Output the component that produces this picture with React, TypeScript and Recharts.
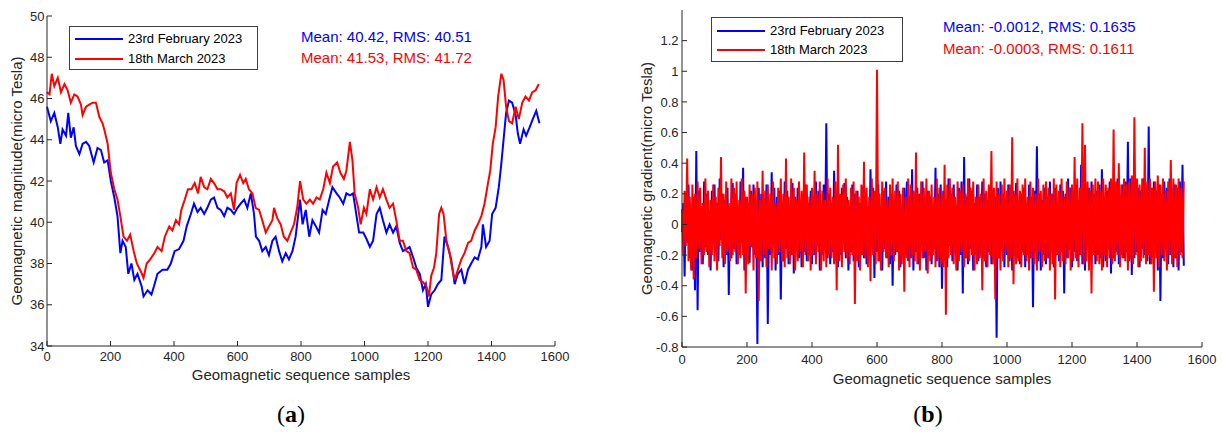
import { LineChart, Line, XAxis, YAxis, Legend } from "recharts";

const FONT = '"Liberation Sans", Arial, Helvetica, sans-serif';
const AXIS = "#262626";
const BLUE = "#0000ff";
const RED = "#ff0000";
const FEB = "23rd February 2023";
const MAR = "18th March 2023";

// (a) geomagnetic magnitude at these sample positions
const febMagSamples = [
  0, 12, 23, 34, 42, 49, 60, 67, 75, 84, 91, 102, 112, 123, 133, 147, 159, 170, 180, 191,
  201, 212, 222, 231, 238, 248, 256, 266, 275, 285, 298, 304, 317, 329, 337, 348, 364, 379, 390, 402,
  416, 430, 440, 453, 463, 474, 484, 495, 505, 516, 526, 537, 547, 558, 568, 579, 589, 600, 610, 621,
  631, 642, 652, 658, 668, 678, 689, 699, 710, 720, 731, 741, 752, 762, 773, 783, 797, 805, 815, 826,
  836, 847, 857, 868, 878, 889, 899, 912, 922, 933, 943, 954, 964, 975, 983, 996, 1006, 1017, 1027, 1038,
  1048, 1058, 1069, 1079, 1090, 1100, 1111, 1121, 1132, 1142, 1153, 1163, 1174, 1184, 1193, 1200, 1210, 1221, 1231, 1242,
  1252, 1263, 1273, 1284, 1294, 1305, 1315, 1326, 1336, 1347, 1357, 1368, 1373, 1383, 1394, 1402, 1413, 1423, 1430, 1438,
  1446, 1455, 1465, 1476, 1483, 1490, 1501, 1509, 1520, 1530, 1541, 1551,
];
const febMagValues = [
  45.6, 44.9, 45.3, 44.6, 43.8, 44.5, 44.2, 45.3, 44.1, 44.6, 43.7, 43.3, 43.8, 43.9, 43.7, 42.9, 43.6, 43.5, 42.9, 43.0,
  42.0, 41.2, 40.3, 38.5, 39.1, 38.8, 37.5, 38.0, 37.2, 37.5, 36.9, 36.4, 36.7, 36.5, 36.9, 37.5, 37.7, 37.7, 38.0, 38.6,
  38.7, 39.1, 39.8, 40.4, 40.9, 40.5, 40.7, 40.4, 40.7, 41.1, 41.2, 40.7, 40.6, 40.3, 40.7, 40.6, 40.4, 40.7, 40.9, 41.1,
  40.7, 41.4, 40.4, 39.3, 39.1, 38.6, 38.8, 38.4, 39.1, 39.3, 38.6, 38.1, 38.5, 38.2, 38.6, 39.3, 41.1, 39.9, 40.6, 39.3,
  40.1, 39.8, 39.5, 40.6, 40.4, 41.1, 41.7, 41.4, 41.2, 40.9, 41.4, 41.3, 41.4, 40.3, 39.5, 39.5, 39.2, 38.8, 39.1, 40.4,
  40.7, 40.1, 39.5, 39.9, 39.5, 39.8, 39.0, 38.6, 38.7, 38.8, 38.3, 37.8, 37.5, 36.7, 37.0, 35.9, 36.5, 36.7, 37.0, 37.2,
  39.3, 38.8, 38.2, 37.0, 37.5, 37.7, 37.0, 37.7, 38.0, 38.3, 38.2, 38.8, 39.9, 38.8, 39.1, 40.4, 40.7, 41.7, 42.7, 44.0,
  45.3, 45.9, 45.8, 45.2, 44.3, 43.8, 44.5, 44.2, 44.6, 45.0, 45.4, 44.8,
];
const marMagSamples = [
  0, 8, 15, 23, 34, 44, 55, 65, 75, 86, 96, 107, 112, 123, 133, 144, 154, 165, 175, 182,
  191, 201, 212, 222, 231, 241, 252, 262, 273, 283, 296, 304, 314, 325, 338, 348, 361, 371, 385, 395,
  406, 416, 423, 434, 444, 455, 465, 476, 484, 495, 505, 516, 526, 537, 547, 558, 568, 579, 589, 597,
  608, 618, 626, 636, 647, 657, 668, 678, 689, 699, 710, 715, 725, 736, 746, 757, 767, 778, 788, 797,
  807, 817, 828, 838, 849, 859, 870, 880, 891, 901, 914, 924, 935, 943, 954, 962, 969, 980, 988, 998,
  1006, 1017, 1027, 1038, 1048, 1058, 1069, 1079, 1090, 1100, 1111, 1121, 1132, 1142, 1153, 1163, 1174, 1184, 1195, 1203,
  1210, 1219, 1226, 1235, 1242, 1249, 1258, 1268, 1276, 1284, 1294, 1305, 1315, 1326, 1336, 1347, 1357, 1368, 1378, 1389,
  1396, 1404, 1413, 1421, 1431, 1438, 1446, 1455, 1465, 1476, 1486, 1497, 1507, 1518, 1528, 1539, 1549,
];
const marMagValues = [
  46.3, 46.2, 47.2, 46.6, 47.0, 46.3, 46.7, 46.4, 45.8, 46.2, 46.1, 45.7, 45.2, 45.6, 45.7, 45.8, 45.8, 45.1, 44.8, 44.4,
  43.8, 42.4, 41.6, 41.1, 40.3, 39.3, 39.1, 39.4, 38.6, 38.0, 37.6, 37.3, 38.0, 38.2, 38.5, 38.8, 38.6, 39.3, 39.8, 39.6,
  40.1, 39.9, 40.6, 41.1, 41.6, 41.6, 41.9, 41.4, 42.2, 41.7, 41.6, 42.1, 41.9, 41.6, 41.6, 41.5, 41.2, 41.4, 40.6, 41.9,
  42.3, 41.9, 42.1, 41.6, 41.4, 40.7, 40.6, 40.1, 39.5, 39.8, 40.1, 40.7, 40.2, 39.9, 39.3, 39.1, 39.5, 39.9, 40.7, 42.0,
  41.1, 40.9, 41.1, 40.9, 41.2, 41.1, 41.6, 42.4, 41.9, 42.7, 42.9, 42.4, 42.1, 42.5, 43.9, 43.0, 41.4, 40.7, 39.9, 40.7,
  40.4, 41.6, 41.1, 41.7, 41.2, 41.6, 41.1, 40.7, 40.9, 40.1, 39.1, 39.1, 38.6, 38.5, 37.8, 37.7, 37.2, 37.1, 36.9, 36.4,
  37.4, 37.8, 38.5, 40.4, 40.7, 40.4, 39.1, 38.5, 37.8, 37.2, 37.7, 38.2, 38.5, 39.0, 39.1, 39.6, 39.9, 40.3, 40.9, 41.9,
  42.5, 43.8, 44.6, 46.1, 47.2, 46.9, 45.6, 44.9, 44.8, 45.6, 45.0, 45.8, 46.1, 45.9, 46.3, 46.4, 46.7,
];

// (b) geomagnetic gradient, one reading every GRAD_STEP samples
const GRAD_STEP = 4;
const febGradValues = [
  -0.05, 0.14, -0.34, 0.2, -0.12, 0.26, -0.22, 0.1, -0.3, 0.18, -0.43, 0.48, -0.56, 0.22, -0.18, 0.12, -0.26, 0.28, -0.15, 0.2,
  -0.2, 0.08, -0.3, 0.22, -0.12, 0.26, -0.18, 0.14, -0.24, 0.3, -0.1, 0.2, -0.28, 0.16, -0.2, 0.24, -0.46, 0.12, -0.22, 0.27,
  -0.16, 0.2, -0.26, 0.1, -0.2, 0.28, -0.12, 0.37, -0.3, 0.18, -0.22, 0.14, -0.25, 0.22, -0.15, 0.26, -0.2, 0.12, -0.78, 0.24,
  -0.18, 0.2, -0.28, 0.16, -0.22, 0.26, -0.65, 0.12, -0.2, 0.34, -0.14, 0.24, -0.3, 0.18, -0.2, 0.22, -0.49, 0.1, -0.24, 0.28,
  -0.16, 0.22, -0.26, 0.12, -0.2, 0.27, -0.32, 0.18, -0.14, 0.24, -0.22, 0.1, -0.28, 0.2, -0.18, 0.26, -0.24, 0.14, -0.2, 0.22,
  -0.26, 0.18, -0.2, 0.28, -0.14, 0.22, -0.3, 0.12, -0.2, 0.26, -0.16, 0.66, -0.22, 0.2, -0.26, 0.14, -0.18, 0.35, -0.24, 0.2,
  -0.28, 0.16, -0.2, 0.24, -0.12, 0.27, -0.22, 0.18, -0.3, 0.12, -0.18, 0.26, -0.24, 0.2, -0.16, 0.22, -0.28, 0.14, -0.2, 0.25,
  -0.22, 0.18, -0.26, 0.12, -0.2, 0.36, -0.14, 0.24, -0.35, 0.2, -0.18, 0.26, -0.24, 0.1, -0.3, 0.22, -0.16, 0.28, -0.22, 0.18,
  -0.26, 0.2, -0.4, 0.14, -0.2, 0.26, -0.18, 0.22, -0.28, 0.12, -0.2, 0.24, -0.14, 0.28, -0.24, 0.18, -0.22, 0.36, -0.3, 0.16,
  -0.18, 0.24, -0.26, 0.2, -0.12, 0.28, -0.22, 0.14, -0.3, 0.22, -0.2, 0.18, -0.26, 0.12, -0.16, 0.37, -0.24, 0.2, -0.28, 0.26,
  -0.42, 0.22, -0.2, 0.16, -0.28, 0.3, -0.14, 0.2, -0.24, 0.26, -0.18, 0.12, -0.3, 0.24, -0.2, 0.28, -0.45, 0.44, -0.22, 0.18,
  -0.26, 0.3, -0.16, 0.22, -0.3, 0.14, -0.2, 0.26, -0.24, 0.18, -0.12, 0.28, -0.22, 0.2, -0.28, 0.16, -0.18, 0.24, -0.26, 0.22,
  -0.2, 0.18, -0.74, 0.24, -0.22, 0.28, -0.16, 0.2, -0.28, 0.14, -0.2, 0.26, -0.24, 0.18, -0.3, 0.22, -0.14, 0.27, -0.22, 0.16,
  -0.26, 0.2, -0.18, 0.24, -0.28, 0.14, -0.2, 0.26, -0.22, 0.18, -0.54, 0.22, -0.16, 0.51, -0.24, 0.2, -0.3, 0.16, -0.2, 0.24,
  -0.26, 0.18, -0.22, 0.28, -0.14, 0.2, -0.28, 0.24, -0.2, 0.14, -0.24, 0.26, -0.18, 0.22, -0.45, 0.2, -0.22, 0.3, -0.16, 0.24,
  -0.28, 0.2, -0.18, 0.26, -0.24, 0.16, -0.2, 0.39, -0.26, 0.22, -0.3, 0.18, -0.14, 0.24, -0.22, 0.28, -0.18, 0.2, -0.26, 0.22,
  -0.2, 0.26, -0.22, 0.36, -0.28, 0.18, -0.24, 0.22, -0.16, 0.28, -0.32, 0.2, -0.22, 0.24, -0.18, 0.3, -0.26, 0.16, -0.2, 0.26,
  -0.22, 0.28, -0.18, 0.54, -0.24, 0.3, -0.33, 0.2, -0.22, 0.26, -0.18, 0.24, -0.28, 0.22, -0.16, 0.3, -0.2, 0.18, -0.24, 0.64,
  -0.26, 0.24, -0.2, 0.28, -0.18, 0.22, -0.3, 0.26, -0.5, 0.2, -0.22, 0.28, -0.16, 0.24, -0.26, 0.3, -0.2, 0.18, -0.28, 0.26,
  -0.22, 0.24, -0.3, 0.28, -0.18, 0.39, -0.27,
];
const marGradValues = [
  0.1, -0.2, 0.22, -0.14, 0.43, -0.24, 0.18, -0.3, 0.26, -0.36, 0.2, -0.22, 0.28, -0.16, 0.24, -0.26, 0.14, -0.2, 0.3, -0.18,
  0.22, -0.28, 0.16, -0.2, 0.26, -0.24, 0.18, -0.3, 0.24, -0.14, 0.44, -0.22, 0.2, -0.26, 0.28, -0.18, 0.14, -0.24, 0.3, -0.2,
  0.24, -0.18, 0.28, -0.26, 0.16, -0.22, 0.3, -0.2, 0.22, -0.45, 0.18, -0.26, 0.26, -0.14, 0.2, -0.3, 0.24, -0.22, 0.28, -0.5,
  0.16, -0.24, 0.35, -0.2, 0.22, -0.28, 0.26, -0.16, 0.2, -0.3, 0.28, -0.22, 0.14, -0.26, 0.24, -0.18, 0.3, -0.24, 0.2, -0.28,
  0.43, -0.22, 0.18, -0.26, 0.3, -0.2, 0.24, -0.3, 0.16, -0.24, 0.28, -0.18, 0.22, -0.28, 0.47, -0.2, 0.26, -0.24, 0.18, -0.3,
  0.24, -0.2, 0.35, -0.26, 0.2, -0.18, 0.28, -0.3, 0.22, -0.24, 0.16, -0.28, 0.3, -0.2, 0.24, -0.22, 0.18, -0.26, 0.28, -0.43,
  0.52, -0.24, 0.2, -0.28, 0.26, -0.18, 0.3, -0.22, 0.16, -0.26, 0.24, -0.2, 0.28, -0.52, 0.22, -0.24, 0.18, -0.3, 0.26, -0.2,
  0.41, -0.22, 0.24, -0.28, 0.18, -0.37, 0.3, -0.2, 0.22, -0.26, 1.01, -0.24, 0.2, -0.3, 0.28, -0.18, 0.24, -0.22, 0.16, -0.28,
  0.26, -0.2, 0.3, -0.24, 0.22, -0.18, 0.28, -0.3, 0.2, -0.26, 0.24, -0.44, 0.18, -0.22, 0.3, -0.28, 0.26, -0.2, 0.22, -0.24,
  0.47, -0.26, 0.2, -0.3, 0.28, -0.22, 0.24, -0.18, 0.3, -0.32, 0.22, -0.24, 0.26, -0.2, 0.18, -0.28, 0.3, -0.22, 0.24, -0.26,
  0.2, -0.28, 0.39, -0.59, 0.26, -0.22, 0.3, -0.2, 0.24, -0.26, 0.18, -0.3, 0.28, -0.24, 0.22, -0.18, 0.26, -0.28, 0.2, -0.22,
  0.3, -0.24, 0.24, -0.2, 0.28, -0.3, 0.18, -0.26, 0.26, -0.22, 0.2, -0.43, 0.3, -0.24, 0.22, -0.28, 0.26, -0.2, 0.48, -0.26,
  0.24, -0.49, 0.28, -0.22, 0.2, -0.3, 0.26, -0.24, 0.3, -0.18, 0.22, -0.28, 0.26, -0.22, 0.57, -0.39, 0.2, -0.26, 0.3, -0.24,
  0.22, -0.28, 0.26, -0.2, 0.3, -0.24, 0.18, -0.3, 0.28, -0.22, 0.24, -0.26, 0.2, -0.3, 0.3, -0.18, 0.22, -0.28, 0.26, -0.24,
  0.28, -0.22, 0.24, -0.3, 0.2, -0.26, 0.3, -0.49, 0.26, -0.2, 0.22, -0.28, 0.3, -0.24, 0.18, -0.26, 0.28, -0.22, 0.24, -0.3,
  0.26, -0.24, 0.44, -0.22, 0.3, -0.28, 0.24, -0.2, 0.66, -0.26, 0.52, -0.24, 0.28, -0.3, 0.22, -0.45, 0.26, -0.2, 0.3, -0.24,
  0.28, -0.26, 0.22, -0.3, 0.3, -0.2, 0.26, -0.28, 0.24, -0.22, 0.3, -0.26, 0.62, -0.24, 0.28, -0.2, 0.4, -0.28, 0.26, -0.22,
  0.3, -0.24, 0.26, -0.3, 0.28, -0.22, 0.32, -0.26, 0.7, -0.2, 0.3, -0.28, 0.26, -0.24, 0.3, -0.22, 0.5, -0.26, 0.28, -0.2,
  0.3, -0.26, 0.24, -0.44, 0.28, -0.22, 0.32, -0.28, 0.26, -0.2, 0.3, -0.24, 0.22, -0.3, 0.28, -0.2, 0.42, -0.26, 0.3, -0.22,
  0.26, -0.28, 0.3, -0.2, 0.24, -0.22, 0.28,
];

const xTicks = [0, 200, 400, 600, 800, 1000, 1200, 1400, 1600];
const magTicks = [34, 36, 38, 40, 42, 44, 46, 48, 50];
const gradTicks = [-0.8, -0.6, -0.4, -0.2, 0, 0.2, 0.4, 0.6, 0.8, 1, 1.2];

const pairUp = (xs: number[], ys: number[]) => ys.map((y, i) => ({ x: xs[i], y }));
const stepped = (ys: number[]) => ys.map((y, i) => ({ x: i * GRAD_STEP, y }));

const febMag = pairUp(febMagSamples, febMagValues);
const marMag = pairUp(marMagSamples, marMagValues);
const febGrad = stepped(febGradValues);
const marGrad = stepped(marGradValues);

const tickStyle = { fill: AXIS, fontSize: 13 };
const ORDER = [FEB, MAR];

function BoxLegend({ payload, width, height, rowHeight, padTop }: any) {
  const items = [...(payload || [])].sort(
    (a: any, b: any) => ORDER.indexOf(a.value) - ORDER.indexOf(b.value)
  );
  return (
    <div
      style={{
        width,
        height,
        boxSizing: "border-box",
        border: "1px solid #404040",
        background: "#fff",
        paddingTop: padTop,
        fontFamily: FONT,
      }}
    >
      {items.map((p: any) => (
        <div key={p.value} style={{ display: "flex", alignItems: "center", height: rowHeight }}>
          <span style={{ display: "inline-block", marginLeft: 5, width: 48, height: 2, background: p.color }} />
          <span style={{ marginLeft: 5, fontSize: 13, color: "#000", lineHeight: "16px" }}>{p.value}</span>
        </div>
      ))}
    </div>
  );
}

function Stat({ left, top, color, children }: any) {
  return (
    <div style={{ position: "absolute", left, top, color, fontSize: 15, lineHeight: "20px", whiteSpace: "nowrap" }}>
      {children}
    </div>
  );
}

function Caption({ center, letter }: any) {
  return (
    <div
      style={{
        position: "absolute",
        left: center - 30,
        width: 60,
        top: 400,
        textAlign: "center",
        fontFamily: '"Liberation Serif", "DejaVu Serif", serif',
        fontSize: 24,
        lineHeight: "28px",
        color: "#000",
      }}
    >
      (<b>{letter}</b>)
    </div>
  );
}

function Panel({ left, width, margin, yWidth, xHeight, xTickMargin, yTickMargin, yDomain, yTicks, yLabel, series, legend }: any) {
  return (
    <div style={{ position: "absolute", left, top: 0 }}>
      <LineChart width={width} height={432} margin={margin}>
        <XAxis
          type="number"
          dataKey="x"
          domain={[0, 1600]}
          ticks={xTicks}
          interval={0}
          height={xHeight}
          tickSize={-5}
          tickMargin={xTickMargin}
          stroke={AXIS}
          tick={tickStyle}
          label={{ value: "Geomagnetic sequence samples", position: "insideBottom", offset: 0, fill: AXIS, fontSize: 15 }}
        />
        <XAxis
          xAxisId="top"
          orientation="top"
          type="number"
          dataKey="x"
          domain={[0, 1600]}
          ticks={xTicks}
          interval={0}
          height={0}
          tickSize={-5}
          tick={false}
          stroke={AXIS}
        />
        <YAxis
          type="number"
          domain={yDomain}
          ticks={yTicks}
          interval={0}
          width={yWidth}
          tickSize={-5}
          tickMargin={yTickMargin}
          stroke={AXIS}
          tick={tickStyle}
          label={{ value: yLabel, angle: -90, position: "center", fill: AXIS, fontSize: 15 }}
        />
        <YAxis
          yAxisId="right"
          orientation="right"
          type="number"
          domain={yDomain}
          ticks={yTicks}
          interval={0}
          width={0}
          tickSize={-5}
          tick={false}
          stroke={AXIS}
        />
        <Legend
          layout="horizontal"
          verticalAlign="middle"
          align="center"
          wrapperStyle={{ left: legend.left, top: legend.top, width: "auto", height: "auto" }}
          content={(props: any) => <BoxLegend payload={props.payload} {...legend} />}
        />
        <Line
          data={series[0]}
          dataKey="y"
          name={FEB}
          type="linear"
          stroke={BLUE}
          strokeWidth={2}
          dot={false}
          isAnimationActive={false}
        />
        <Line
          data={series[1]}
          dataKey="y"
          name={MAR}
          type="linear"
          stroke={RED}
          strokeWidth={2}
          dot={false}
          isAnimationActive={false}
        />
      </LineChart>
    </div>
  );
}

export default function App() {
  return (
    <div
      style={{
        position: "absolute",
        left: 0,
        top: 0,
        width: 1222,
        height: 432,
        background: "#fff",
        fontFamily: FONT,
        overflow: "hidden",
      }}
    >
      <Panel
        left={-13}
        width={600}
        margin={{ top: 16, right: 32, bottom: 52, left: 0 }}
        yWidth={60}
        xHeight={34}
        xTickMargin={11}
        yTickMargin={7.5}
        yDomain={[34, 50]}
        yTicks={magTicks}
        yLabel="Geomagnetic magnitude(micro Tesla)"
        series={[febMag, marMag]}
        legend={{ left: 82, top: 26, width: 189, height: 44, rowHeight: 20, padTop: 2 }}
      />
      <Panel
        left={612}
        width={610}
        margin={{ top: 10, right: 20, bottom: 48, left: 0 }}
        yWidth={70}
        xHeight={37}
        xTickMargin={12.5}
        yTickMargin={8.5}
        yDomain={[-0.8, 1.4]}
        yTicks={gradTicks}
        yLabel="Geomagnetic gradient(micro Tesla)"
        series={[febGrad, marGrad]}
        legend={{ left: 99, top: 17, width: 192, height: 45, rowHeight: 19.3, padTop: 3.4 }}
      />
      <Stat left={301} top={27.3} color={BLUE}>Mean: 40.42, RMS: 40.51</Stat>
      <Stat left={301} top={48.3} color={RED}>Mean: 41.53, RMS: 41.72</Stat>
      <Stat left={943} top={16.7} color={BLUE}>Mean: -0.0012, RMS: 0.1635</Stat>
      <Stat left={943} top={39.3} color={RED}>Mean: -0.0003, RMS: 0.1611</Stat>
      <Caption center={291} letter="a" />
      <Caption center={928} letter="b" />
    </div>
  );
}
